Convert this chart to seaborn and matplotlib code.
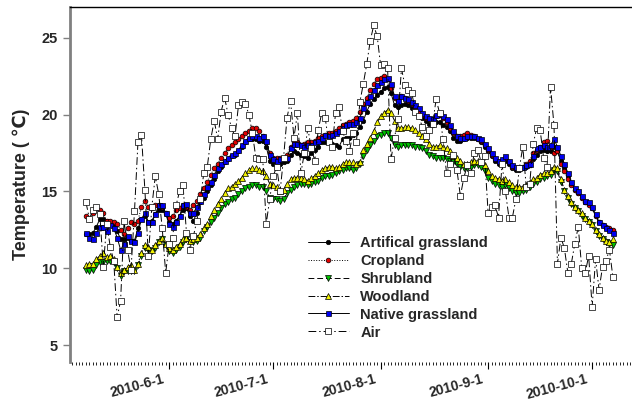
import matplotlib
matplotlib.use("Agg")
import matplotlib.pyplot as plt
import matplotlib.dates as mdates
import matplotlib.transforms as mtransforms
from matplotlib.ticker import FuncFormatter
import numpy as np
import pandas as pd
import seaborn as sns

# Daily mean temperatures, 2010-05-08 .. 2010-10-07
start_date = "2010-05-08"

artificial = [
    12.2, 12.2, 12.3, 12.7, 13.2, 13.2, 13.1, 13.0, 12.9, 12.4,
    11.9, 11.9, 12.0, 11.8, 11.8, 12.6, 13.2, 13.4, 13.0, 13.1,
    13.5, 13.8, 13.8, 13.5, 13.0, 12.9, 13.1, 13.4, 13.8, 13.9,
    13.4, 13.1, 13.6, 14.3, 14.6, 15.0, 15.4, 15.8, 16.3, 16.6,
    16.9, 17.1, 17.3, 17.4, 17.6, 17.9, 18.2, 18.4, 18.4, 18.4,
    18.3, 18.3, 17.9, 17.0, 16.8, 16.7, 16.8, 16.9, 17.0, 17.4,
    17.6, 17.5, 17.4, 17.3, 17.2, 17.5, 17.7, 17.9, 18.2, 18.2,
    18.2, 18.1, 18.0, 17.9, 18.4, 18.5, 18.5, 18.7, 18.8, 19.2,
    19.6, 20.2, 20.7, 21.0, 21.3, 21.5, 21.7, 21.8, 21.4, 20.6,
    20.5, 20.6, 20.7, 20.6, 20.4, 20.2, 20.0, 19.8, 19.6, 19.4,
    19.3, 19.5, 19.5, 19.3, 19.2, 18.9, 18.5, 18.3, 18.3, 18.4,
    18.5, 18.5, 18.5, 18.4, 18.2, 17.9, 17.6, 17.3, 17.0, 16.8,
    16.9, 17.0, 16.8, 16.5, 16.4, 16.4, 16.5, 16.6, 16.7, 17.1,
    17.4, 17.6, 17.7, 17.6, 17.6, 17.9, 17.6, 17.0, 16.5, 16.0,
    15.5, 15.1, 14.9, 14.6, 14.3, 14.2, 13.9, 13.4, 13.0, 12.8,
    12.6, 12.5, 12.4]

cropland = [
    13.4, 13.2, 13.6, 13.9, 13.8, 13.6, 13.1, 13.1, 13.0, 12.9,
    12.5, 12.2, 12.6, 13.0, 12.9, 13.1, 14.0, 14.4, 14.0, 13.9,
    14.1, 14.1, 14.0, 13.6, 13.3, 13.4, 13.8, 13.9, 14.1, 14.0,
    13.8, 14.1, 14.4, 14.8, 15.2, 15.6, 16.1, 16.5, 16.8, 17.2,
    17.5, 17.8, 18.0, 18.2, 18.4, 18.6, 18.8, 18.9, 19.1, 19.1,
    18.9, 18.6, 18.2, 17.5, 17.2, 17.2, 17.2, 17.2, 17.4, 17.9,
    18.2, 18.2, 18.0, 18.1, 18.2, 18.2, 18.3, 18.5, 18.6, 18.7,
    18.8, 18.8, 18.9, 19.1, 19.3, 19.4, 19.5, 19.6, 19.8, 20.2,
    20.7, 21.1, 21.6, 22.0, 22.3, 22.4, 22.5, 22.3, 21.7, 21.1,
    20.9, 21.2, 21.1, 20.9, 20.7, 20.5, 20.2, 20.0, 19.8, 19.7,
    19.6, 19.9, 20.0, 19.8, 19.5, 19.1, 18.8, 18.6, 18.6, 18.7,
    18.8, 18.7, 18.6, 18.4, 18.3, 18.0, 17.7, 17.4, 17.1, 16.9,
    17.0, 17.2, 16.9, 16.6, 16.5, 16.5, 16.6, 16.8, 17.0, 17.5,
    17.7, 17.9, 18.2, 18.3, 17.9, 17.5, 17.6, 16.8, 16.3, 15.8,
    15.4, 15.1, 14.9, 14.6, 14.3, 14.1, 13.9, 13.4, 13.0, 12.8,
    12.7, 12.6, 12.5]

shrubland = [
    9.9, 9.8, 9.9, 10.2, 10.4, 10.4, 10.5, 10.5, 10.4, 10.0,
    9.5, 9.8, 9.8, 9.8, 9.8, 10.2, 10.8, 11.3, 11.2, 11.1,
    11.3, 11.7, 11.9, 11.5, 11.1, 11.0, 11.2, 11.4, 11.7, 11.9,
    11.7, 11.7, 11.8, 12.0, 12.4, 12.7, 13.0, 13.3, 13.6, 13.9,
    14.2, 14.3, 14.5, 14.6, 14.8, 15.0, 15.2, 15.3, 15.4, 15.4,
    15.3, 15.3, 15.0, 14.6, 14.5, 14.5, 14.4, 14.5, 14.9, 15.1,
    15.3, 15.4, 15.5, 15.5, 15.4, 15.5, 15.6, 15.7, 15.9, 16.0,
    16.0, 16.1, 16.2, 16.3, 16.4, 16.5, 16.5, 16.4, 16.5, 16.8,
    17.3, 17.7, 18.0, 18.3, 18.6, 18.7, 18.8, 18.8, 18.5, 18.0,
    17.9, 18.0, 18.0, 18.0, 18.0, 17.9, 17.9, 17.8, 17.6, 17.4,
    17.3, 17.2, 17.2, 17.2, 17.1, 17.0, 16.9, 16.8, 16.6, 16.5,
    16.5, 16.6, 16.7, 16.7, 16.6, 16.3, 15.9, 15.7, 15.5, 15.4,
    15.3, 15.4, 15.2, 15.0, 14.9, 14.9, 15.0, 15.1, 15.3, 15.5,
    15.6, 15.8, 15.9, 16.0, 16.1, 16.4, 16.3, 15.6, 15.0, 14.6,
    14.2, 13.9, 13.7, 13.4, 13.2, 13.0, 12.8, 12.4, 12.1, 11.9,
    11.7, 11.6, 11.5]

woodland = [
    10.2, 10.3, 10.3, 10.6, 10.8, 11.0, 10.7, 10.8, 10.6, 10.1,
    9.7, 9.9, 10.1, 10.2, 9.9, 10.3, 11.0, 11.5, 11.4, 11.2,
    11.5, 11.8, 12.0, 11.6, 11.3, 11.2, 11.4, 11.6, 11.9, 12.0,
    11.8, 11.9, 12.0, 12.2, 12.6, 12.9, 13.4, 13.8, 14.2, 14.5,
    14.9, 15.2, 15.3, 15.5, 15.7, 15.9, 16.2, 16.4, 16.5, 16.5,
    16.4, 16.3, 16.0, 15.5, 15.4, 15.3, 15.0, 15.1, 15.5, 15.8,
    15.9, 15.9, 15.9, 15.8, 15.7, 15.9, 16.0, 16.2, 16.4, 16.5,
    16.6, 16.6, 16.5, 16.6, 16.8, 16.9, 16.9, 16.9, 16.8, 16.9,
    17.7, 18.1, 18.5, 18.9, 19.5, 19.9, 20.1, 20.3, 20.1, 19.6,
    19.1, 19.1, 19.2, 19.2, 19.1, 19.0, 18.8, 18.6, 18.4, 18.1,
    17.9, 17.9, 18.0, 17.9, 17.8, 17.6, 17.3, 17.2, 17.0, 16.8,
    16.8, 16.9, 17.0, 17.0, 16.9, 16.7, 16.3, 16.0, 15.9, 15.8,
    15.7, 15.8, 15.6, 15.4, 15.3, 15.3, 15.3, 15.4, 15.6, 15.8,
    15.9, 16.1, 16.2, 16.2, 16.3, 16.6, 16.5, 15.8, 15.1, 14.7,
    14.3, 14.0, 13.8, 13.6, 13.3, 13.1, 12.9, 12.5, 12.2, 12.0,
    11.8, 11.7, 11.9]

native = [
    12.3, 12.0, 11.9, 12.3, 12.7, 12.7, 12.4, 12.8, 12.6, 12.0,
    11.2, 11.6, 12.1, 11.8, 11.7, 12.3, 13.2, 13.6, 13.0, 13.0,
    13.5, 14.1, 14.1, 13.6, 12.9, 12.7, 13.0, 13.4, 14.1, 14.2,
    13.6, 13.6, 14.0, 14.4, 14.8, 15.3, 15.6, 16.1, 16.5, 16.8,
    17.0, 17.2, 17.4, 17.5, 17.7, 18.0, 18.3, 18.5, 18.6, 18.6,
    18.5, 18.6, 18.3, 17.4, 17.1, 17.0, 17.1, 17.2, 17.2, 17.8,
    18.1, 18.1, 18.0, 17.9, 18.0, 18.0, 18.2, 18.3, 18.5, 18.7,
    18.6, 18.7, 18.8, 18.9, 19.1, 19.3, 19.4, 19.4, 19.5, 19.8,
    20.4, 20.8, 21.2, 21.6, 21.9, 22.1, 22.3, 22.4, 22.0, 21.2,
    20.9, 21.2, 21.1, 21.0, 20.8, 20.6, 20.4, 20.1, 19.9, 19.8,
    19.7, 20.0, 20.1, 19.9, 19.7, 19.3, 18.9, 18.6, 18.5, 18.5,
    18.6, 18.6, 18.6, 18.5, 18.4, 18.1, 17.8, 17.5, 17.2, 17.0,
    17.1, 17.3, 17.0, 16.7, 16.6, 16.6, 16.6, 16.7, 16.8, 17.3,
    17.8, 17.9, 18.0, 17.9, 18.0, 18.4, 17.9, 17.3, 16.8, 16.2,
    15.6, 15.2, 15.0, 14.7, 14.4, 14.3, 14.0, 13.5, 13.0, 12.8,
    12.6, 12.5, 12.3]

air = [
    14.3, 13.2, 13.8, 14.0, 13.5, 10.1, 12.9, 11.4, 10.5, 6.8,
    7.9, 13.1, 11.2, 9.9, 13.7, 18.2, 18.7, 15.1, 10.8, 14.0,
    16.0, 14.8, 12.6, 9.7, 11.6, 12.0, 14.1, 15.0, 15.4, 12.3,
    11.2, 12.1, 13.1, 14.5, 16.2, 16.6, 18.4, 19.6, 18.4, 20.2,
    21.1, 20.0, 19.1, 18.6, 20.6, 20.8, 20.7, 20.0, 18.8, 17.2,
    17.1, 17.1, 12.9, 14.5, 16.0, 16.6, 15.0, 17.2, 19.8, 20.9,
    18.5, 20.1, 16.2, 17.5, 19.1, 17.8, 17.0, 19.0, 20.1, 19.8,
    18.2, 17.9, 20.1, 20.5, 18.9, 18.3, 17.6, 18.8, 18.2, 20.8,
    22.0, 23.3, 24.8, 25.8, 25.1, 23.2, 23.3, 23.0, 17.1, 18.5,
    19.7, 23.0, 21.9, 21.6, 21.4, 20.2, 19.9, 19.2, 18.6, 19.0,
    19.4, 21.0, 20.1, 18.4, 16.2, 16.8, 17.4, 16.4, 14.7, 15.9,
    16.7, 16.2, 17.5, 17.7, 16.9, 17.3, 13.6, 14.0, 14.1, 13.3,
    16.8, 15.0, 13.3, 13.3, 14.5, 16.5, 17.9, 15.3, 15.5, 18.1,
    19.1, 19.0, 17.2, 16.6, 21.8, 19.3, 10.3, 12.0, 11.3, 9.7,
    10.3, 11.6, 12.7, 10.0, 9.7, 10.8, 7.5, 10.6, 8.6, 10.1,
    10.5, 11.2, 9.4]

series_names = ["Artifical grassland", "Cropland", "Shrubland",
                "Woodland", "Native grassland", "Air"]
major_dates = ["2010-06-01", "2010-07-01", "2010-08-01", "2010-09-01", "2010-10-01"]
y_ticks = [5, 10, 15, 20, 25]

dates = pd.date_range(start_date, periods=len(air), freq="D")
values = [artificial, cropland, shrubland, woodland, native, air]

# line / marker style per series
styles = {
    "Artifical grassland": dict(ls="-", marker="o", mfc="black", ms=3.2),
    "Cropland": dict(ls=":", marker="o", mfc="#e00000", ms=3.4),
    "Shrubland": dict(ls=(0, (6, 3)), marker="v", mfc="#00c000", ms=4.0),
    "Woodland": dict(ls=(0, (7, 2, 1.5, 2)), marker="^", mfc="#f0f000", ms=4.0),
    "Native grassland": dict(ls="-", marker="s", mfc="#0000f0", ms=3.6),
    "Air": dict(ls=(0, (8, 3, 1.5, 3)), marker="s", mfc="white", ms=5.0),
}

sns.set_style("white")
plt.rcParams["font.family"] = ["Liberation Sans", "DejaVu Sans"]
plt.rcParams["font.weight"] = "bold"

fig = plt.figure(figsize=(6.32, 3.99), dpi=100)
ax = fig.add_axes([70 / 632, 37 / 399, 562 / 632, 355 / 399])

for name, vals in zip(series_names, values):
    st = styles[name]
    df = pd.DataFrame({"date": dates, "temp": vals})
    sns.lineplot(data=df, x="date", y="temp", ax=ax, color="black",
                 linestyle=st["ls"], linewidth=0.7, marker=st["marker"],
                 markerfacecolor=st["mfc"], markeredgecolor="black",
                 markeredgewidth=0.5, markersize=st["ms"], label=name)

ax.set_xlim(pd.Timestamp("2010-05-08") - pd.Timedelta(days=4.6),
            pd.Timestamp("2010-05-08") + pd.Timedelta(days=157.5))
ax.set_ylim(3.9, 27.0)

ax.set_yticks(y_ticks)
ax.set_xticks(pd.to_datetime(major_dates))
ax.xaxis.set_minor_locator(mdates.DayLocator())
ax.xaxis.set_major_formatter(FuncFormatter(
    lambda v, pos: (lambda d: f"{d.year}-{d.month}-{d.day}")(mdates.num2date(v))))

ax.tick_params(axis="y", which="major", direction="out", length=5, width=1,
               color="#808080", labelsize=10.5, pad=4, left=True)
ax.tick_params(axis="x", which="major", direction="out", length=5, width=0.8,
               color="black", labelsize=10, pad=2, bottom=True)
ax.tick_params(axis="x", which="minor", direction="out", length=2.5, width=0.6,
               color="black", bottom=True)
# date labels sit slightly left of their ticks, tilted
shift = mtransforms.ScaledTranslation(-7 / 100, 0, fig.dpi_scale_trans)
for lab in ax.get_xticklabels():
    lab.set_rotation(15)
    lab.set_ha("right")
    lab.set_va("top")
    lab.set_rotation_mode("anchor")
    lab.set_fontweight("bold")
    lab.set_transform(lab.get_transform() + shift)
for lab in ax.get_yticklabels():
    lab.set_fontweight("bold")

ax.spines["left"].set_color("#808080")
ax.spines["left"].set_linewidth(2)
ax.spines["top"].set_color("black")
ax.spines["top"].set_linewidth(1)
ax.spines["right"].set_visible(False)
ax.spines["bottom"].set_visible(False)

ax.set_xlabel("")
ax.set_ylabel("Temperature ( \u2103)", fontsize=13, fontweight="bold",
              labelpad=8)

leg = ax.legend(loc="upper left", bbox_to_anchor=(232 / 562, 1 - 223 / 355),
                frameon=False, fontsize=10.5, handlelength=2.8,
                labelspacing=0.27, handletextpad=0.8, borderaxespad=0)
for t in leg.get_texts():
    t.set_fontweight("bold")

fig.savefig("out.png", dpi=100)
